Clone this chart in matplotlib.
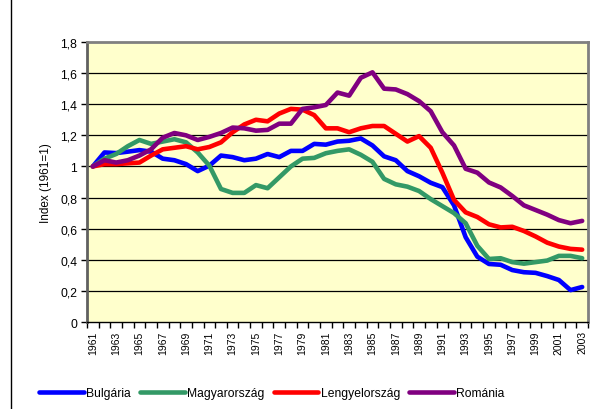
import matplotlib
matplotlib.use("Agg")
import matplotlib.pyplot as plt
from matplotlib.lines import Line2D
import numpy as np

plt.rcParams['font.family'] = ['Liberation Sans', 'DejaVu Sans']

years = list(range(1961, 2004))
bulgaria = [1.0, 1.09, 1.086, 1.095, 1.105, 1.095, 1.05, 1.04, 1.015, 0.97,
            1.005, 1.07, 1.06, 1.04, 1.05, 1.08, 1.06, 1.10, 1.10, 1.145,
            1.14, 1.16, 1.165, 1.18, 1.135, 1.065, 1.04, 0.97, 0.937, 0.895,
            0.867, 0.75, 0.545, 0.42, 0.373, 0.368, 0.334, 0.32, 0.316, 0.295,
            0.27, 0.205, 0.225]
magyarorszag = [1.0, 1.05, 1.08, 1.13, 1.17, 1.145, 1.16, 1.175, 1.155, 1.09,
                1.005, 0.855, 0.83, 0.83, 0.88, 0.86, 0.93, 1.0, 1.05, 1.055,
                1.085, 1.10, 1.11, 1.075, 1.03, 0.92, 0.885, 0.87, 0.842, 0.79,
                0.745, 0.70, 0.635, 0.49, 0.405, 0.41, 0.385, 0.375, 0.385, 0.395,
                0.425, 0.425, 0.41]
lengyelorszag = [1.0, 1.015, 1.015, 1.02, 1.025, 1.07, 1.11, 1.12, 1.13, 1.11,
                 1.125, 1.155, 1.22, 1.27, 1.30, 1.29, 1.34, 1.37, 1.365, 1.33,
                 1.245, 1.245, 1.22, 1.245, 1.26, 1.26, 1.21, 1.16, 1.195, 1.12,
                 0.96, 0.785, 0.705, 0.675, 0.628, 0.608, 0.612, 0.585, 0.55, 0.51,
                 0.485, 0.47, 0.465]
romania = [1.0, 1.04, 1.025, 1.04, 1.07, 1.11, 1.185, 1.215, 1.2, 1.17,
           1.19, 1.215, 1.25, 1.245, 1.23, 1.235, 1.275, 1.275, 1.37, 1.38,
           1.395, 1.475, 1.455, 1.57, 1.605, 1.5, 1.495, 1.465, 1.42, 1.355,
           1.22, 1.135, 0.985, 0.96, 0.897, 0.865, 0.81, 0.75, 0.72, 0.69,
           0.655, 0.635, 0.65]

series = [("Bulgária", bulgaria, "#0000FF"),
          ("Magyarország", magyarorszag, "#339966"),
          ("Lengyelország", lengyelorszag, "#FF0000"),
          ("Románia", romania, "#800080")]

yticks = [0, 0.2, 0.4, 0.6, 0.8, 1.0, 1.2, 1.4, 1.6, 1.8]
ytick_labels = ["0", "0,2", "0,4", "0,6", "0,8", "1", "1,2", "1,4", "1,6", "1,8"]

W, H = 595, 410
fig = plt.figure(figsize=(W / 100, H / 100), dpi=100)
ax = fig.add_axes([87 / W, 1 - 323 / H, (588 - 87) / W, (323 - 43) / H])
ax.set_facecolor("#FFFFCC")

x = np.arange(len(years))
for name, vals, col in series:
    ax.plot(x, vals, color=col, lw=3.3, label=name, solid_capstyle='round',
            solid_joinstyle='round')

ax.set_xlim(-0.5, len(years) - 0.5)
ax.set_ylim(0, 1.8)
ax.set_yticks(yticks)
ax.set_yticklabels(ytick_labels, fontsize=8.7)
for yv in yticks[1:-1]:
    ax.axhline(yv, color="black", lw=0.9, zorder=0.5)

ax.set_xticks(x[::2])
ax.set_xticklabels([str(y) for y in years[::2]], rotation=90, fontsize=7.5)
ax.set_xticks(np.arange(-0.5, len(years)), minor=True)
ax.tick_params(axis='x', which='major', length=0, pad=6)
ax.tick_params(axis='x', which='minor', length=4, width=1, color='black')
ax.tick_params(axis='y', length=4, width=1, color='black', pad=3)

for s in ['top', 'right']:
    ax.spines[s].set_color("#808080")
    ax.spines[s].set_linewidth(2)
ax.spines['left'].set_color("#606060")
ax.spines['left'].set_linewidth(2)
ax.spines['bottom'].set_color("black")
ax.spines['bottom'].set_linewidth(1)

ax.set_ylabel("Index (1961=1)", fontsize=8.5, labelpad=6)

fig.legend(loc='center', bbox_to_anchor=(0.457, 0.038), ncol=4, frameon=False,
           fontsize=8.7, handlelength=3.7, handletextpad=0.2, columnspacing=0.75)

fig.add_artist(Line2D([11 / W, 11 / W], [0, 1], color='black', lw=1,
                      transform=fig.transFigure))

fig.savefig("out.png", dpi=100)
